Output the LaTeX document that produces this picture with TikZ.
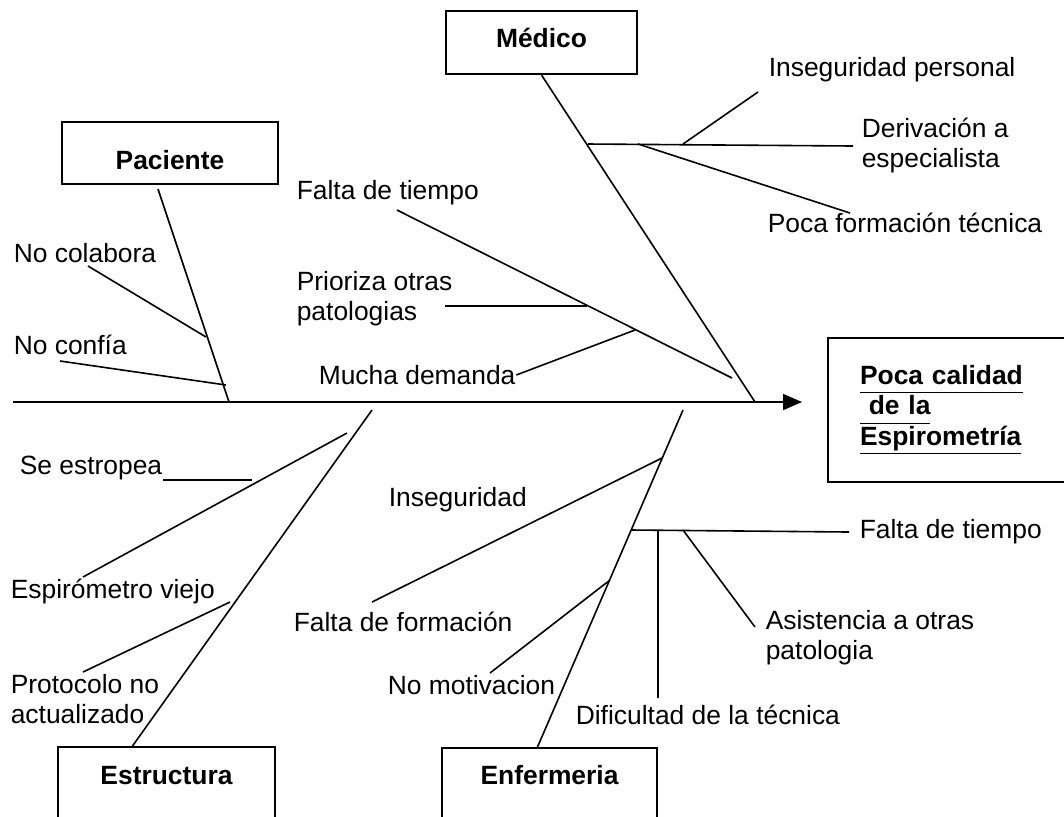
\documentclass[tikz,border=0pt]{standalone}
\usepackage{fontspec}
\setmainfont{Liberation Sans}
\usetikzlibrary{arrows.meta}
\newcommand{\ulin}[1]{\underline{\vphantom{p}#1}}
\begin{document}
\begin{tikzpicture}[x=0.5pt,y=-0.5pt,line width=0.8pt,
    font=\fontsize{13.2}{15}\selectfont,
    box/.style={draw,rectangle,line width=1pt,inner ysep=0pt,font=\fontsize{13.2}{15}\selectfont\bfseries},
    lbl/.style={anchor=west,inner sep=0pt,align=left}]
            \useasboundingbox (0,0) rectangle (1064,816);
            % categories and effect
            \node (n1) at (541.5,10)[box,anchor=north,minimum width=95.5pt,text height=18pt,text depth=13.5pt]{Médico};
            \node (n2) at (170,121)[box,anchor=north,minimum width=108pt,text height=23.5pt,text depth=7.5pt]{Paciente};
            \node (n3) at (166.5,746)[box,anchor=north,minimum width=108.5pt,text height=18.5pt,text depth=40pt]{Estructura};
            \node (n4) at (549.5,747)[box,anchor=north,minimum width=107.5pt,text height=18pt,text depth=40pt]{Enfermeria};
            \node (n5) at (827,410)[box,anchor=west,inner xsep=16pt,text width=89.5pt,align=left,minimum height=72pt,font=\fontsize{13.2}{15.25}\selectfont\bfseries]{\ulin{Poca calidad}\\\ulin{\ de la}\\\ulin{Espirometría}};
            % causes
            \node (t1) at (13,253)[lbl]{No colabora};
            \node (t2) at (13,345)[lbl]{No confía};
            \node (t3) at (296,193)[lbl]{Falta de tiempo};
            \node (t4) at (296,299)[lbl]{Prioriza otras\\patologias};
            \node (t5) at (318,375)[lbl]{Mucha demanda};
            \node (t6) at (768,70)[lbl]{Inseguridad personal};
            \node (t7) at (861,146)[lbl]{Derivación a\\especialista};
            \node (t8) at (767,223)[lbl]{Poca formación técnica};
            \node (t9) at (19,468)[lbl]{Se estropea};
            \node (t10) at (10,592)[lbl]{Espirómetro viejo};
            \node (t11) at (10,699)[lbl]{Protocolo no\\actualizado};
            \node (t12) at (388,500)[lbl]{Inseguridad};
            \node (t13) at (293,622)[lbl]{Falta de formación};
            \node (t14) at (387,685)[lbl]{No motivacion};
            \node (t15) at (859,532)[lbl]{Falta de tiempo};
            \node (t16) at (575,715)[lbl]{Dificultad de la técnica};
            \node (t17) at (765,638)[lbl]{Asistencia a otras\\patologia};
            % points on the spine and on the bones
            \coordinate (s0) at (13,402);   \coordinate (tip) at (802,402);
            \coordinate (m0) at (755,402);  \coordinate (p0) at (229,402);
            \coordinate (e0) at (372,410);  \coordinate (f0) at (683,410);
            \coordinate (a1) at (88,266);   \coordinate (b1) at (206,337);
            \coordinate (a2) at (60,361);   \coordinate (b2) at (226,385);
            \coordinate (a3) at (397,210);  \coordinate (b3) at (732,378);
            \coordinate (a4) at (445,306);  \coordinate (b4) at (587,306);
            \coordinate (b5) at (635,330);
            \coordinate (b6) at (588,144);  \coordinate (a6) at (683,144);
            \coordinate (c6) at (758,92);   \coordinate (a8) at (638,144);
            \coordinate (c8) at (850,213);
            \coordinate (b9) at (252,480);
            \coordinate (a10) at (83,577);  \coordinate (b10) at (347,433);
            \coordinate (a11) at (83,672);  \coordinate (b11) at (230,602);
            \coordinate (a13) at (372,602); \coordinate (b13) at (662,458);
            \coordinate (a14) at (490,673); \coordinate (b14) at (610,580);
            \coordinate (b15) at (632,530); \coordinate (a16) at (658,530);
            \coordinate (c16) at (658,698); \coordinate (a17) at (683,530);
            \coordinate (c17) at (755,627);
            \draw [line width=1pt,-{Triangle[length=9.5pt,width=8pt]}] (s0)--(tip);
            \draw (n1.south)--(m0);
            \draw ([xshift=-6pt,yshift=-2pt]n2.south)--(p0);
            \draw ([xshift=-17pt]n3.north)--(e0);
            \draw ([xshift=-6pt]n4.north)--(f0);
            \draw (a1)--(b1);
            \draw (a2)--(b2);
            \draw (a3)--(b3);
            \draw (a4)--(b4);
            \draw (t5.east)--(b5);
            \draw (b6)--([xshift=-4pt]t7.west);
            \draw (a6)--(c6);
            \draw (a8)--(c8);
            \draw ([yshift=-6pt]t9.east)--(b9);
            \draw (a10)--(b10);
            \draw (a11)--(b11);
            \draw (a13)--(b13);
            \draw (a14)--(b14);
            \draw (b15)--([xshift=-5pt]t15.west);
            \draw (a16)--(c16);
            \draw (a17)--(c17);
        \end{tikzpicture}
\end{document}
